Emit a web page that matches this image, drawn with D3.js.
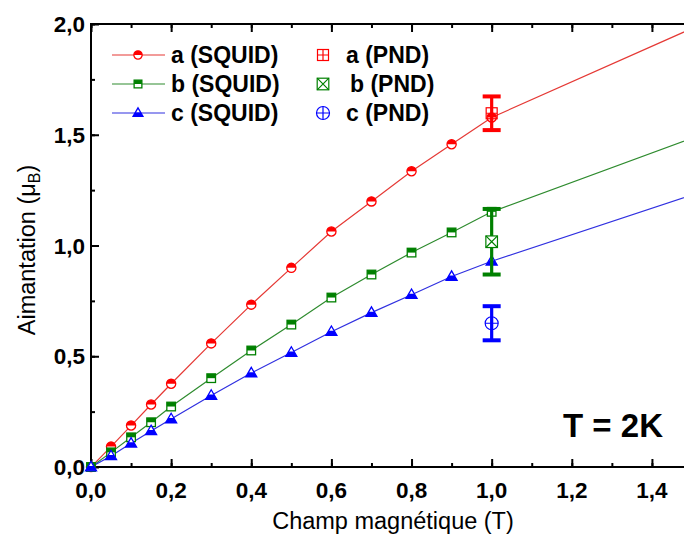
<!DOCTYPE html>
<html><head><meta charset="utf-8">
<script src="https://cdn.jsdelivr.net/npm/d3@7"></script>
<style>html,body{margin:0;padding:0;background:#fff;overflow:hidden}</style>
</head><body>
<svg id="chart" width="684" height="536"></svg>
<script>
// ---- data ----
const fields = [0, 0.05, 0.1, 0.15, 0.2, 0.3, 0.4, 0.5, 0.6, 0.7, 0.8, 0.9, 1.0];
const squidA = [0, 0.092, 0.187, 0.282, 0.376, 0.558, 0.733, 0.899, 1.063, 1.199, 1.335, 1.457, 1.578];
const squidB = [0, 0.066, 0.134, 0.202, 0.273, 0.401, 0.526, 0.643, 0.765, 0.869, 0.968, 1.059, 1.152];
const squidC = [0, 0.050, 0.107, 0.163, 0.217, 0.323, 0.424, 0.517, 0.611, 0.697, 0.778, 0.860, 0.929];
// continuation of the SQUID curves drawn without markers
const fieldsExt = [1.0, 1.5];
const extA = [1.578, 1.98];
const extB = [1.152, 1.485];
const extC = [0.929, 1.228];
// neutron (PND) points with error bars
const pndField = [1.0, 1.0, 1.0];
const pndValue = [1.597, 1.017, 0.649];
const pndError = [0.076, 0.148, 0.077];
const seriesNames = ["a", "b", "c"];
const xTicks = [0, 0.2, 0.4, 0.6, 0.8, 1.0, 1.2, 1.4];
const yTicks = [0, 0.5, 1.0, 1.5, 2.0];

const colors = ["#ff0000", "#008000", "#0000ff"];
const lineColors = ["#e53935", "#2e8b2e", "#3030e0"];
const FONT = "'Liberation Sans', Arial, Helvetica, sans-serif";

const svg = d3.select("#chart");
const L = 91, R = 692, T = 24, B = 467;
const x = d3.scaleLinear().domain([0, 1.5]).range([L, R]);
const y = d3.scaleLinear().domain([0, 2.0]).range([B, T]);
const fmt = d => d.toFixed(1).replace(".", ",");

// axes (ticks inward)
function addAxis(axisGen, tr) {
  const g = svg.append("g").attr("transform", tr).call(axisGen);
  g.select(".domain").remove();
  g.selectAll("line").attr("stroke", "#000").attr("stroke-width", 2);
  g.selectAll("text").remove();
  return g;
}
const xMinor = d3.range(0, 1.51, 0.1);
const yMinor = d3.range(0, 2.01, 0.25);
addAxis(d3.axisTop(x).tickValues(xMinor).tickSize(4), `translate(0,${B})`);
addAxis(d3.axisTop(x).tickValues(xTicks.concat([1.5])).tickSize(8), `translate(0,${B})`);
addAxis(d3.axisBottom(x).tickValues(xMinor).tickSize(4), `translate(0,${T})`);
addAxis(d3.axisBottom(x).tickValues(xTicks).tickSize(8), `translate(0,${T})`);
addAxis(d3.axisRight(y).tickValues(yMinor).tickSize(4), `translate(${L},0)`);
addAxis(d3.axisRight(y).tickValues(yTicks).tickSize(8), `translate(${L},0)`);
addAxis(d3.axisLeft(y).tickValues(yMinor).tickSize(4), `translate(${R},0)`);
addAxis(d3.axisLeft(y).tickValues(yTicks).tickSize(8), `translate(${R},0)`);

svg.append("rect").attr("x", L).attr("y", T).attr("width", R - L).attr("height", B - T)
  .attr("fill", "none").attr("stroke", "#000").attr("stroke-width", 2);

// tick labels
svg.append("g").selectAll("text").data(xTicks).join("text")
  .attr("x", d => x(d)).attr("y", 498).attr("text-anchor", "middle")
  .attr("font-family", FONT).attr("font-weight", "bold").attr("font-size", 22.5)
  .text(fmt);
svg.append("g").selectAll("text").data(yTicks).join("text")
  .attr("x", 85).attr("y", d => y(d) + 8).attr("text-anchor", "end")
  .attr("font-family", FONT).attr("font-weight", "bold").attr("font-size", 22.5)
  .text(fmt);

// axis titles
svg.append("text").attr("x", 393).attr("y", 529).attr("text-anchor", "middle")
  .attr("font-family", FONT).attr("font-size", 23.5).text("Champ magnétique (T)");
const yt = svg.append("text").attr("transform", "translate(35,250) rotate(-90)")
  .attr("text-anchor", "middle").attr("font-family", FONT).attr("font-size", 23.5);
yt.append("tspan").text("Aimantation (μ");
yt.append("tspan").attr("font-size", 16).attr("dy", 5).text("B");
yt.append("tspan").attr("dy", -5).text(")");

// clip for lines
svg.append("clipPath").attr("id", "clip").append("rect")
  .attr("x", L).attr("y", T).attr("width", R - L).attr("height", B - T);

const line = d3.line().x(d => x(d[0])).y(d => y(d[1]));
const squid = [squidA, squidB, squidC];
const ext = [extA, extB, extC];
const plot = svg.append("g").attr("clip-path", "url(#clip)");
squid.forEach((s, i) => {
  const pts = fields.map((f, k) => [f, s[k]]).concat(fieldsExt.slice(1).map((f, k) => [f, ext[i][k + 1]]));
  plot.append("path").attr("d", line(pts)).attr("fill", "none")
    .attr("stroke", lineColors[i]).attr("stroke-width", 1.2);
});

// half-filled markers
function squidMarker(g, type, c, scale) {
  const s = scale || 1;
  if (type === 0) {
    const r = 4.6 * s;
    g.append("circle").attr("r", r).attr("fill", "#fff").attr("stroke", c).attr("stroke-width", 1.3);
    g.append("path").attr("d", `M${-r},0 A${r},${r} 0 0 1 ${r},0 Z`).attr("fill", c);
  } else if (type === 1) {
    const h = 4.3 * s;
    g.append("rect").attr("x", -h).attr("y", -h).attr("width", 2 * h).attr("height", 2 * h)
      .attr("fill", "#fff").attr("stroke", c).attr("stroke-width", 1.3);
    g.append("rect").attr("x", -h).attr("y", -h).attr("width", 2 * h).attr("height", h).attr("fill", c);
  } else {
    const w = 5.5 * s, hh = 9.5 * s;
    const top = -hh * 0.6, bot = hh * 0.4;
    g.append("path").attr("d", `M0,${top} L${w},${bot} L${-w},${bot} Z`)
      .attr("fill", "#fff").attr("stroke", c).attr("stroke-width", 1.3).attr("stroke-linejoin", "miter");
    const mid = (top + bot) / 2;
    g.append("path").attr("d", `M${-w / 2},${mid} L${w / 2},${mid} L${w},${bot} L${-w},${bot} Z`).attr("fill", c);
  }
}
squid.forEach((s, i) => {
  svg.append("g").selectAll("g").data(fields.map((f, k) => [f, s[k]])).join("g")
    .attr("transform", d => `translate(${x(d[0])},${y(d[1])})`)
    .each(function () { squidMarker(d3.select(this), i, colors[i]); });
});

// error bars
pndValue.forEach((v, i) => {
  const cx = x(pndField[i]);
  const g = svg.append("g").attr("stroke", colors[i]);
  g.append("line").attr("x1", cx).attr("x2", cx).attr("y1", y(v + pndError[i])).attr("y2", y(v - pndError[i]))
    .attr("stroke-width", 3.2);
  [v + pndError[i], v - pndError[i]].forEach(e => {
    g.append("line").attr("x1", cx - 9).attr("x2", cx + 9).attr("y1", y(e)).attr("y2", y(e)).attr("stroke-width", 4);
  });
});

function pndMarker(g, type, c) {
  if (type === 0) {
    const h = 5.5;
    g.append("rect").attr("x", -h).attr("y", -h).attr("width", 2 * h).attr("height", 2 * h)
      .attr("fill", "none").attr("stroke", c).attr("stroke-width", 1.2);
    g.append("path").attr("d", `M${-h},0 H${h} M0,${-h} V${h}`).attr("stroke", c).attr("stroke-width", 1.2);
  } else if (type === 1) {
    const h = 5.8;
    g.append("rect").attr("x", -h).attr("y", -h).attr("width", 2 * h).attr("height", 2 * h)
      .attr("fill", "#fff").attr("stroke", c).attr("stroke-width", 1.2);
    g.append("path").attr("d", `M${-h},${-h} L${h},${h} M${h},${-h} L${-h},${h}`).attr("stroke", c).attr("stroke-width", 1.2);
  } else {
    const r = 6.5;
    g.append("circle").attr("r", r).attr("fill", "none").attr("stroke", c).attr("stroke-width", 1.2);
    g.append("path").attr("d", `M${-r},0 H${r} M0,${-r} V${r}`).attr("stroke", c).attr("stroke-width", 1.2);
  }
}
pndValue.forEach((v, i) => {
  pndMarker(svg.append("g").attr("transform", `translate(${x(pndField[i])},${y(v)})`), i, colors[i]);
});

// legend
const legY = [55, 84, 113];
seriesNames.forEach((n, i) => {
  svg.append("line").attr("x1", 112).attr("x2", 165).attr("y1", legY[i]).attr("y2", legY[i])
    .attr("stroke", lineColors[i]).attr("stroke-width", 1.2);
  squidMarker(svg.append("g").attr("transform", `translate(138,${legY[i]})`), i, colors[i], 0.9);
  svg.append("text").attr("x", 171).attr("y", legY[i] + 8).attr("font-family", FONT)
    .attr("font-weight", "bold").attr("font-size", 23).text(`${n} (SQUID)`);
  pndMarker(svg.append("g").attr("transform", `translate(323,${legY[i]})`), i, colors[i]);
  svg.append("text").attr("x", i === 1 ? 350 : 346).attr("y", legY[i] + 8).attr("font-family", FONT)
    .attr("font-weight", "bold").attr("font-size", 23).text(`${n} (PND)`);
});

// temperature annotation
svg.append("text").attr("x", 613).attr("y", 437).attr("text-anchor", "middle")
  .attr("font-family", FONT).attr("font-weight", "bold").attr("font-size", 33).text("T = 2K");
</script>
</body></html>
